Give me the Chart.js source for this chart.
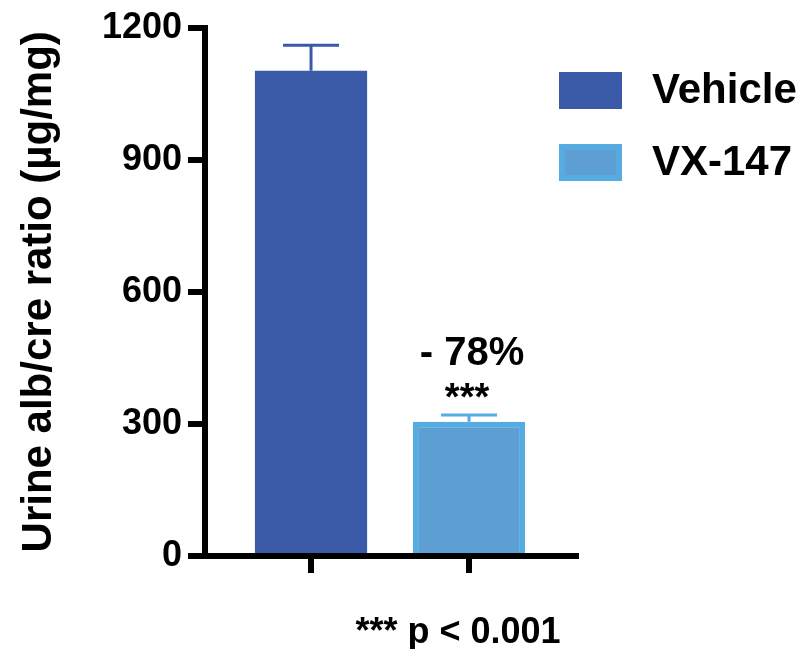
<!DOCTYPE html>
<html>
<head>
<meta charset="utf-8">
<script src="https://cdn.jsdelivr.net/npm/chart.js@4.4.0/dist/chart.umd.min.js"></script>
<style>
  html, body { margin: 0; padding: 0; background: #fff; }
  #wrap { width: 800px; height: 649px; position: relative; }
</style>
</head>
<body>
<div id="wrap"><canvas id="albChart"></canvas></div>
<script>
// Urine alb/cre ratio - Vehicle vs VX-147
const groups = ['Vehicle', 'VX-147'];
const means = [1102, 305];
const sems = [58, 15];
const yTicks = [0, 300, 600, 900, 1200];
const barColors = ['#3a5aa8', '#5e9fd3'];
const barEdges = ['#3a5aa8', '#56abe0'];
const edgeWidths = [0, 6];
const changeLabel = '- 78%';
const sigLabel = '***';
const footNote = '*** p < 0.001';

const FONT = '"Liberation Sans", Arial, Helvetica, sans-serif';

// error bars (mean + SEM, upper only)
const errorBars = {
    id: 'errorBars',
    afterDatasetsDraw(chart) {
        const ctx = chart.ctx;
        const y = chart.scales.y;
        chart.data.datasets.forEach((ds, i) => {
            const bar = chart.getDatasetMeta(i).data[0];
            const top = y.getPixelForValue(means[i] + sems[i]);
            ctx.save();
            ctx.strokeStyle = barEdges[i];
            ctx.lineWidth = 3;
            ctx.beginPath();
            ctx.moveTo(bar.x, bar.y);
            ctx.lineTo(bar.x, top);
            ctx.moveTo(bar.x - 28, top);
            ctx.lineTo(bar.x + 28, top);
            ctx.stroke();
            ctx.restore();
        });
    }
};

// text notes + legend on the right
const notes = {
    id: 'notes',
    afterDraw(chart) {
        const ctx = chart.ctx;
        const x = chart.scales.x;
        const y = chart.scales.y;
        const cx = x.getPixelForValue(1);
        const errTop = y.getPixelForValue(means[1] + sems[1]);
        ctx.save();
        ctx.fillStyle = '#000';
        ctx.textAlign = 'center';
        ctx.textBaseline = 'alphabetic';
        ctx.font = 'bold 40px ' + FONT;
        ctx.fillText(changeLabel, cx + 3, errTop - 50);
        ctx.font = 'bold 38px ' + FONT;
        ctx.fillText(sigLabel, cx - 2, errTop - 5);
        ctx.font = 'bold 36px ' + FONT;
        ctx.fillText(footNote, 458, 643);

        // legend
        const lx = 559, ly = [72, 144];
        ctx.textAlign = 'left';
        ctx.textBaseline = 'middle';
        ctx.font = 'bold 42px ' + FONT;
        groups.forEach((g, i) => {
            ctx.fillStyle = barEdges[i];
            ctx.fillRect(lx, ly[i], 63, 37);
            ctx.fillStyle = barColors[i];
            ctx.fillRect(lx + 6, ly[i] + 6, 51, 25);
            ctx.fillStyle = '#000';
            ctx.fillText(g, 652, ly[i] + 19);
        });
        ctx.restore();
    }
};

const axisGrid = {
    offset: false,
    drawOnChartArea: false,
    drawTicks: true,
    tickLength: 17,
    tickWidth: 6,
    tickColor: '#000',
    lineWidth: 6,
    color: '#000'
};

const ctx = document.getElementById('albChart').getContext('2d');
const albChart = new Chart(ctx, {
    type: 'bar',
    data: {
        datasets: groups.map((g, i) => ({
            label: g,
            data: [{ x: i, y: means[i] }],
            backgroundColor: barColors[i],
            borderColor: barEdges[i],
            borderWidth: edgeWidths[i],
            barPercentage: 0.71,
            categoryPercentage: 1
        }))
    },
    options: {
        responsive: true,
        maintainAspectRatio: false,
        animation: false,
        layout: {
            padding: { top: 26, right: 224, bottom: 0, left: 0 }
        },
        plugins: {
            legend: { display: false },
            tooltip: { enabled: false }
        },
        scales: {
            x: {
                type: 'linear',
                offset: false,
                stacked: true,
                min: -0.671,
                max: 1.677,
                afterBuildTicks: s => { s.ticks = groups.map((g, i) => ({ value: i })); },
                afterFit: s => { s.height = 93; },
                ticks: { display: false },
                grid: axisGrid,
                border: { display: true, width: 6, color: '#000' }
            },
            y: {
                min: 0,
                max: 1200,
                afterBuildTicks: s => { s.ticks = yTicks.map(v => ({ value: v })); },
                afterFit: s => { s.width = 205; },
                ticks: {
                    color: '#000',
                    padding: 6,
                    font: { family: FONT, size: 36, weight: 'bold' },
                    callback: v => String(v)
                },
                grid: axisGrid,
                border: { display: true, width: 6, color: '#000' },
                title: {
                    display: true,
                    text: 'Urine alb/cre ratio (µg/mg)',
                    color: '#000',
                    font: { family: FONT, size: 42, weight: 'bold' },
                    padding: { top: 14, bottom: 0 }
                }
            }
        }
    },
    plugins: [errorBars, notes]
});
</script>
</body>
</html>
